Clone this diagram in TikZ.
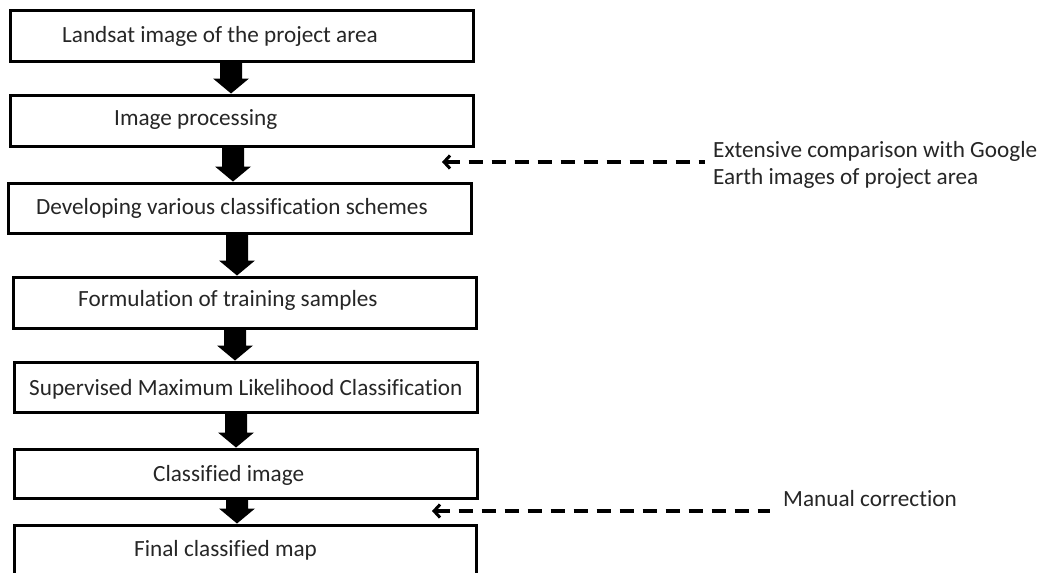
\documentclass[tikz,border=0pt]{standalone}
\usepackage{fontspec}
\setmainfont[Ligatures=NoCommon]{Carlito}
\usetikzlibrary{arrows.meta,calc}
\tikzset{
  box/.style={draw=black, line width=3pt, rectangle, inner sep=0pt},
  lbl/.style={anchor=base west, inner sep=0pt, font=\fontsize{23.2}{27}\selectfont, text=black!85},
  dasharr/.style={line width=3.4pt, dash pattern=on 14pt off 9pt, {Straight Barb[length=6pt,width=13pt,line width=3pt]}-},
}
\newcommand\blockarr[3]{%
  \path (#3,0) coordinate (tmpx);
  \path (#1.south -| tmpx) coordinate (tmpa) (#2.north -| tmpx) coordinate (tmpb);
  \fill[black] ($(tmpa)+(-11,-2)$) -- ($(tmpa)+(11,-2)$) -- ($(tmpb)+(11,-15)$) -- ($(tmpb)+(18,-15)$)
     -- (tmpb) -- ($(tmpb)+(-18,-15)$) -- ($(tmpb)+(-11,-15)$) -- cycle;
}
\begin{document}
\begin{tikzpicture}[x=1pt,y=-1pt]
\useasboundingbox[fill=white] (0,0) rectangle (1039,573);
% boxes
\node[box, minimum width=463pt, minimum height=51pt] (b1) at (241.5,35.5) {};
\node[box, minimum width=463pt, minimum height=51pt] (b2) at (241.5,120.5) {};
\node[box, minimum width=463pt, minimum height=50pt] (b3) at (239.5,208) {};
\node[box, minimum width=463pt, minimum height=51pt] (b4) at (244.5,302.5) {};
\node[box, minimum width=463pt, minimum height=50pt] (b5) at (245.5,387) {};
\node[box, minimum width=463pt, minimum height=49pt] (b6) at (245.5,473.5) {};
\node[box, minimum width=462pt, minimum height=65pt] (b7) at (245,557.5) {};
% labels
\node[lbl] (t1) at (62,42) {Landsat image of the project area};
\node[lbl] (t2) at (114,125) {Image processing};
\node[lbl] (t3) at (36,214) {Developing various classification schemes};
\node[lbl] (t4) at (78,306) {Formulation of training samples};
\node[lbl] (t5) at (29,395) {Supervised Maximum Likelihood Classification};
\node[lbl] (t6) at (153,481) {Classified image};
\node[lbl] (t7) at (134,556) {Final classified map};
% block arrows
\blockarr{b1}{b2}{231}
\blockarr{b2}{b3}{233}
\blockarr{b3}{b4}{237}
\blockarr{b4}{b5}{235}
\blockarr{b5}{b6}{236}
\blockarr{b6}{b7}{237}
% side notes
\node[lbl] (n1) at (713,157) {Extensive comparison with Google};
\node[lbl] (n2) at (713,184) {Earth images of project area};
\node[lbl] (n3) at (783,506) {Manual correction};
\coordinate (e1) at (442,162);
\coordinate (s1) at (705,162);
\coordinate (e2) at (432,511);
\coordinate (s2) at (770,511);
\draw[dasharr] (e1) -- (s1);
\draw[dasharr] (e2) -- (s2);
\end{tikzpicture}
\end{document}
